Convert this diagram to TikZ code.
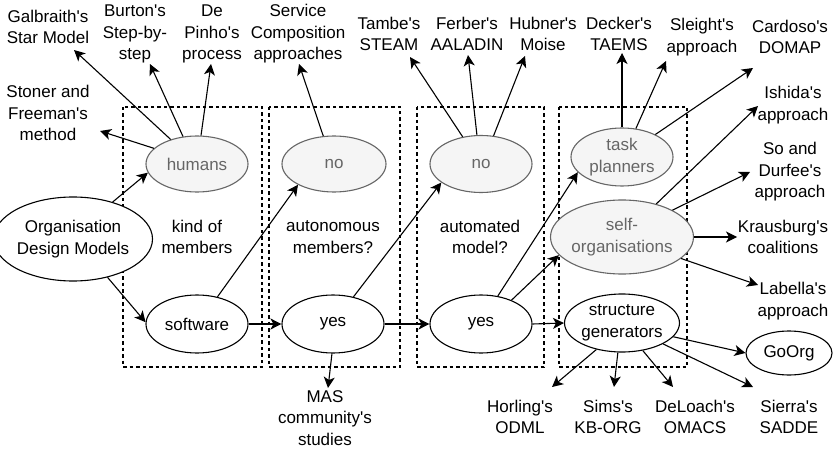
\documentclass[tikz,border=0pt]{standalone}
\usepackage{fontspec}
\setmainfont{Liberation Sans}[Ligatures=TeXOff]
\usetikzlibrary{shapes.geometric,arrows.meta}
\definecolor{softfill}{HTML}{F5F5F5}
\definecolor{softline}{HTML}{666666}

\begin{document}
\begin{tikzpicture}[x=1pt,y=-1pt,
  every node/.style={font=\fontsize{17}{21.5}\selectfont},
  oval/.style={ellipse, draw, line width=1.1pt, inner sep=0pt, fill=white, align=center},
  softoval/.style={oval, draw=softline, fill=softfill, text=softline},
  lbl/.style={align=center, inner sep=0pt},
  stagebox/.style={draw, dash pattern=on 3.5pt off 3pt, line width=1.1pt},
  arr/.style={line width=1.1pt, -{Stealth[length=11pt,width=11pt,inset=3pt]}},
]
\useasboundingbox (0,0) rectangle (835,449);

% decision stages
\draw[stagebox] (123,107) rectangle (262,367);
\draw[stagebox] (269,107) rectangle (400,367);
\draw[stagebox] (417,107) rectangle (544,367);
\draw[stagebox] (559,107) rectangle (687,367);

% stage questions
\node[lbl] (kind) at (197,237) {kind of\\members};
\node[lbl] (auton) at (333,237) {autonomous\\members?};
\node[lbl] (autom) at (480,237) {automated\\model?};

% decision nodes
\node[oval, minimum width=132pt, minimum height=84pt] (org) at (73,239) {Organisation\\Design Models};
\node[softoval, minimum width=102pt, minimum height=56pt] (humans) at (197,164) {humans};
\node[oval, minimum width=102pt, minimum height=58pt] (software) at (197,324) {software};
\node[softoval, minimum width=104pt, minimum height=56pt] (no1) at (334,164) {no};
\node[oval, minimum width=102pt, minimum height=58pt] (yes1) at (333,324) {yes};
\node[softoval, minimum width=102pt, minimum height=57pt] (no2) at (481,164) {no};
\node[oval, minimum width=102pt, minimum height=58pt] (yes2) at (481,324) {yes};
\node[softoval, minimum width=102pt, minimum height=58pt] (task) at (622,157) {task\\planners};
\node[softoval, minimum width=114pt, minimum height=74pt] (selforg) at (622,237) {self-\\organisations};
\node[oval, minimum width=112pt, minimum height=58pt] (struct) at (622,323) {structure\\generators};
\node[oval, minimum width=86pt, minimum height=44pt] (goorg) at (789,353) {GoOrg};

% approaches
\node[lbl] (galb) at (48,27) {Galbraith's\\Star Model};
\node[lbl] (burton) at (135,34) {Burton's\\Step-by-\\step};
\node[lbl] (pinho) at (212,34) {De\\Pinho's\\process};
\node[lbl] (service) at (298,34) {Service\\Composition\\approaches};
\node[lbl] (stoner) at (48,113) {Stoner and\\Freeman's\\method};
\node[lbl] (mas) at (325,418) {MAS\\community's\\studies};
\node[lbl] (tambe) at (389,34) {Tambe's\\STEAM};
\node[lbl] (ferber) at (467,34) {Ferber's\\AALADIN};
\node[lbl] (hubner) at (543,34) {Hubner's\\Moise};
\node[lbl] (decker) at (619,34) {Decker's\\TAEMS};
\node[lbl] (sleight) at (702,37) {Sleight's\\approach};
\node[lbl] (cardoso) at (790,37) {Cardoso's\\DOMAP};
\node[lbl] (ishida) at (793,105) {Ishida's\\approach};
\node[lbl] (sodurfee) at (790,172) {So and\\Durfee's\\approach};
\node[lbl] (kraus) at (783,237) {Krausburg's\\coalitions};
\node[lbl] (labella) at (793,301) {Labella's\\approach};
\node[lbl] (horling) at (520,417) {Horling's\\ODML};
\node[lbl] (sims) at (608,417) {Sims's\\KB-ORG};
\node[lbl] (deloach) at (695,417) {DeLoach's\\OMACS};
\node[lbl] (sierra) at (789,417) {Sierra's\\SADDE};

% arrow ends next to the approach labels
\coordinate (galb-in) at (74,50);
\coordinate (burton-in) at (150,64);
\coordinate (pinho-in) at (211,64);
\coordinate (stoner-in) at (100,131);
\coordinate (service-in) at (299,64);
\coordinate (mas-in) at (328,388);
\coordinate (tambe-in) at (410,57);
\coordinate (ferber-in) at (468,55);
\coordinate (hubner-in) at (525,56);
\coordinate (decker-in) at (622,53);
\coordinate (sleight-in) at (666,61);
\coordinate (cardoso-in) at (753,68);
\coordinate (ishida-in) at (758,106);
\coordinate (sodurfee-in) at (750,172);
\coordinate (kraus-in) at (737,237);
\coordinate (labella-in) at (758,285);
\coordinate (horling-in) at (552,387);
\coordinate (sims-in) at (614,387);
\coordinate (deloach-in) at (673,387);
\coordinate (sierra-in) at (753,387);

% decision flow
\draw[arr] (org.43) -- (humans.190);
\draw[arr] (org.-48) -- (software.178);
\draw[arr] (software.east) -- (yes1.west);
\draw[arr] (software.53) -- (no1.210);
\draw[arr] (yes1.east) -- (yes2.west);
\draw[arr] (yes1.53) -- (no2.205);
\draw[arr] (yes2.east) -- (struct.west);
\draw[arr] (yes2.59) -- (task.199);
\draw[arr] (yes2.38) -- (selforg.196);
\draw[arr] (struct.-15) -- (goorg.west);

% references per branch
\draw[arr] (humans.137) -- (galb-in);
\draw[arr] (humans.117) -- (burton-in);
\draw[arr] (humans.82) -- (pinho-in);
\draw[arr] (humans.160) -- (stoner-in);
\draw[arr] (no1.111) -- (service-in);
\draw[arr] (yes1.-92) -- (mas-in);
\draw[arr] (no2.124) -- (tambe-in);
\draw[arr] (no2.98) -- (ferber-in);
\draw[arr] (no2.66) -- (hubner-in);
\draw[arr] (task.90) -- (decker-in);
\draw[arr] (task.64) -- (sleight-in);
\draw[arr] (task.34) -- (cardoso-in);
\draw[arr] (selforg.44) -- (ishida-in);
\draw[arr] (selforg.28) -- (sodurfee-in);
\draw[arr] (selforg.0) -- (kraus-in);
\draw[arr] (selforg.-20) -- (labella-in);
\draw[arr] (struct.-134) -- (horling-in);
\draw[arr] (struct.-98) -- (sims-in);
\draw[arr] (struct.-53) -- (deloach-in);
\draw[arr] (struct.-27) -- (sierra-in);
\end{tikzpicture}
\end{document}
